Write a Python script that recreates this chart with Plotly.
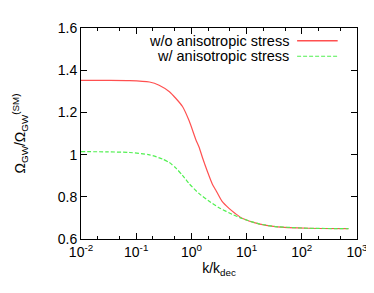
import plotly.graph_objects as go

# Data
k_red = [0.01, 0.03, 0.076, 0.174, 0.26, 0.40, 0.52, 0.69, 0.91, 1.2, 1.38, 1.59, 1.95, 2.4, 2.76, 3.6, 4.8, 6.3, 8.3, 16.6, 33, 132, 700]
omega_red = [1.352, 1.352, 1.351, 1.344, 1.329, 1.298, 1.267, 1.228, 1.160, 1.072, 1.035, 0.985, 0.920, 0.860, 0.832, 0.778, 0.745, 0.720, 0.698, 0.672, 0.659, 0.651, 0.649]

k_green = [0.01, 0.03, 0.076, 0.174, 0.30, 0.40, 0.52, 0.69, 0.91, 1.38, 2.1, 3.17, 5.5, 8.3, 16.6, 33, 132, 700]
omega_green = [1.014, 1.013, 1.010, 0.999, 0.979, 0.962, 0.937, 0.902, 0.862, 0.815, 0.779, 0.748, 0.717, 0.697, 0.672, 0.659, 0.651, 0.649]

names = ["w/o anisotropic stress", "w/ anisotropic stress"]

x_tickvals = [0.01, 0.1, 1, 10, 100, 1000]
x_ticktext = ["10<sup>-2</sup>", "10<sup>-1</sup>", "10<sup>0</sup>", "10<sup>1</sup>", "10<sup>2</sup>", "10<sup>3</sup>"]
x_minor = [m * 10 ** e for e in range(-2, 3) for m in (2, 5)]
y_tickvals = [0.6, 0.8, 1.0, 1.2, 1.4, 1.6]
y_ticktext = ["0.6", "0.8", "1", "1.2", "1.4", "1.6"]

RED = "#ff5050"
GREEN = "#50f050"
FONT = "Liberation Sans, Arial, sans-serif"

fig = go.Figure()
fig.add_trace(go.Scatter(x=k_red, y=omega_red, mode="lines", name=names[0],
                         line=dict(color=RED, width=1.2, shape="spline", smoothing=0.6)))
fig.add_trace(go.Scatter(x=k_green, y=omega_green, mode="lines", name=names[1],
                         line=dict(color=GREEN, width=1.2, dash="4px,2px", shape="spline", smoothing=0.6)))

# gnuplot-style legend: text right-aligned, sample to the right
leg_y = [0.94, 0.866]
styles = [dict(color=RED, width=1.5), dict(color=GREEN, width=1.2, dash="4px,2px")]
for yy, nm, st in zip(leg_y, names, styles):
    fig.add_annotation(x=0.748, y=yy, xref="paper", yref="paper", text=nm, showarrow=False,
                       xanchor="right", yanchor="middle", xshift=3, borderpad=0,
                       font=dict(size=14.5, family=FONT, color="black"))
    fig.add_shape(type="line", xref="paper", yref="paper", x0=0.783, x1=0.93, y0=yy, y1=yy, line=st)

fig.update_layout(
    width=374, height=293,
    margin=dict(l=71, r=25, t=17, b=62),
    paper_bgcolor="white", plot_bgcolor="white",
    showlegend=False,
    font=dict(family=FONT, size=14, color="black"),
)
fig.update_xaxes(type="log", range=[-2, 3], showgrid=False, zeroline=False,
                 showline=True, linecolor="black", linewidth=1, mirror="ticks",
                 ticks="inside", ticklen=6, tickwidth=1, tickcolor="black",
                 tickmode="array", tickvals=x_tickvals, ticktext=x_ticktext,
                 tickfont=dict(size=14),
                 minor=dict(tickmode="array", tickvals=x_minor, ticks="inside", ticklen=3,
                            tickcolor="black", tickwidth=1, showgrid=False),
                 title=dict(text="k/k<sub>dec</sub>", standoff=2, font=dict(size=14)))
fig.update_yaxes(range=[0.6, 1.6], showgrid=False, zeroline=False,
                 showline=True, linecolor="black", linewidth=1, mirror="ticks",
                 ticks="inside", ticklen=6, tickwidth=1, tickcolor="black",
                 tickmode="array", tickvals=y_tickvals, ticktext=y_ticktext,
                 tickfont=dict(size=14),
                 title=dict(text="Ω<sub>GW</sub>/Ω<sub>GW</sub><sup>(SM)</sup>", standoff=28, font=dict(size=14)))

fig.write_html("out.html")
